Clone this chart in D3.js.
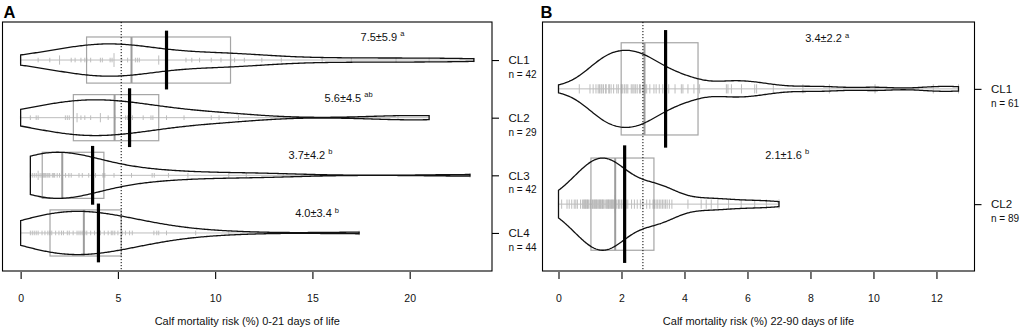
<!DOCTYPE html>
<html><head><meta charset="utf-8">
<script src="https://cdn.jsdelivr.net/npm/d3@7"></script>
<style>body{margin:0;background:#fff}svg{display:block;font-family:"Liberation Sans",Arial,sans-serif}</style>
</head><body><svg id="c" width="1021" height="329"></svg>
<script>
// ---------- Panel A data (0-21 days of life) ----------
const groupsA = ["CL1","CL2","CL3","CL4"];
const nA = [42,29,42,44];
const a_CL1 = [0,0.9,1.5,2.0,2.0,2.6,2.8,3.1,3.3,3.4,3.6,4.1,4.2,4.6,4.7,4.8,4.8,4.8,5.2,5.5,5.7,5.7,5.9,6.0,6.1,7.1,7.1,8.5,8.8,9.2,9.8,10.3,10.8,11.0,11.5,12.4,13.4,15.5,17.0,19.3,21.0,23.3];
const a_CL2 = [0,0.5,0.8,0.9,2.3,2.4,2.5,2.9,2.9,3.1,3.3,3.6,4.1,4.1,4.5,4.85,5.4,5.5,5.75,6.3,6.7,6.8,7.5,8.4,9.8,10.2,11.2,19.4,21.0];
const a_CL3 = [0.5,0.6,0.7,0.8,0.9,0.9,1.0,1.1,1.15,1.2,1.25,1.3,1.37,1.45,1.5,1.63,1.7,1.75,1.88,2.0,2.14,2.14,2.31,2.48,2.6,3.0,3.17,3.5,3.65,3.85,4.23,4.33,4.8,5.7,6.76,6.87,7.6,8.6,10.7,11.6,13.5,23.1];
const a_CL4 = [0,0.5,0.6,0.7,0.8,0.9,1.1,1.25,1.4,1.5,1.6,1.8,1.97,2.1,2.2,2.4,2.5,2.7,2.9,3.0,3.1,3.2,3.3,3.4,3.6,3.8,4.1,4.3,4.5,4.66,4.74,4.84,5.0,5.22,5.39,5.6,5.74,6.85,7.0,7.1,7.5,9.0,10.7,17.4];
const meansA = [7.5,5.6,3.7,4.0];
const sdsA = [5.9,4.5,4.2,3.4];
const lettersA = ["a","ab","b","b"];
const q1A = [3.39,2.71,1.11,1.51];
const medA = [5.70,4.83,2.14,3.25];
const q3A = [10.79,7.10,4.28,5.17];
const overallA = 5.17;
const ticksA = [0,5,10,15,20];
const titleA = "Calf mortality risk (%) 0-21 days of life";

// ---------- Panel B data (22-90 days of life) ----------
const groupsB = ["CL1","CL2"];
const nB = [61,89];
const b_CL1 = [0,0.66,1.0,1.1,1.19,1.26,1.3,1.35,1.38,1.43,1.5,1.51,1.6,1.61,1.67,1.75,1.85,1.9,1.99,2.0,2.04,2.1,2.15,2.2,2.31,2.36,2.4,2.45,2.5,2.57,2.6,2.68,2.71,2.73,2.75,2.8,2.9,3.03,3.1,3.2,3.31,3.4,3.5,3.7,3.9,3.95,4.11,4.3,4.48,5.33,5.38,5.49,5.81,6.23,6.29,6.82,7.76,8.6,10.05,11.9,12.7];
const b_CL2 = [0,0,0.1,0.27,0.34,0.42,0.5,0.55,0.6,0.7,0.76,0.8,0.82,0.85,0.87,0.9,0.92,0.95,1.0,1.03,1.08,1.1,1.13,1.15,1.18,1.2,1.22,1.25,1.28,1.3,1.33,1.35,1.38,1.4,1.42,1.45,1.5,1.53,1.55,1.58,1.6,1.61,1.65,1.68,1.7,1.72,1.75,1.78,1.8,1.8,1.85,1.9,1.92,1.95,2.0,2.05,2.09,2.15,2.2,2.32,2.41,2.5,2.6,2.68,2.8,2.9,3.0,3.03,3.05,3.1,3.15,3.2,3.25,3.3,3.35,3.4,3.45,3.52,3.6,4.11,4.53,4.69,4.85,5.06,5.4,5.8,6.23,6.6,7.0];
const meansB = [3.4,2.1];
const sdsB = [2.2,1.6];
const lettersB = ["a","b"];
const q1B = [1.99,1.03];
const medB = [2.73,1.80];
const q3B = [4.43,3.03];
const overallB = 2.68;
const ticksB = [0,2,4,6,8,10,12];
const titleB = "Calf mortality risk (%) 22-90 days of life";

// annotation anchors (data units along x)
const annotXA = [18.6,16.86,14.9,15.24];
const annotXB = [8.53,7.26];

const svg = d3.select("#c");

function panel(cfg){
  const {box,letter,groups,n,data,means,sds,letters,q1,med,q3,overall,ticks,title,annotX,annotDy,bw} = cfg;
  const all = data.flat();
  const [mn,mx] = d3.extent(all);
  const pad = (mx-mn)*0.04;
  const x = d3.scaleLinear().domain([mn-pad,mx+pad]).range([box.l,box.r]);
  const k = groups.length, yp = k*0.04;
  const y = d3.scaleLinear().domain([0.5-yp,k+0.5+yp]).range([box.t,box.b]);
  const u = y(1)-y(0);
  const g = svg.append("g");

  // densities
  const beans = data.map(v=>{
    const [a,b] = d3.extent(v);
    const grid = d3.range(0,301).map(i=>a+(b-a)*i/300);
    return grid.map(t=>[t, d3.sum(v,w=>Math.exp(-0.5*((t-w)/bw)**2))/(v.length*bw*Math.sqrt(2*Math.PI))]);
  });
  const dmax = d3.max(beans,b=>d3.max(b,d=>d[1]));
  const sc = 0.4/dmax;

  data.forEach((v,i)=>{
    const yc = y(i+1);
    const counts = d3.rollups(v,c=>c.length,d=>d);
    g.selectAll(null).data(counts).join("line")
      .attr("x1",d=>x(d[0])).attr("x2",d=>x(d[0]))
      .attr("y1",d=>yc-0.04*d[1]*u).attr("y2",d=>yc+0.04*d[1]*u)
      .attr("stroke","#a8a8a8").attr("stroke-opacity",0.75).attr("stroke-width",1);
    const [a,b] = d3.extent(v);
    g.append("line").attr("x1",x(a)).attr("x2",x(b)).attr("y1",yc).attr("y2",yc)
      .attr("stroke","#bdbdbd").attr("stroke-width",1);
    g.append("rect").attr("x",x(q1[i])).attr("width",x(q3[i])-x(q1[i]))
      .attr("y",yc-0.4*u).attr("height",0.8*u)
      .attr("fill","none").attr("stroke","#a5a5a5").attr("stroke-width",1.2);
    g.append("line").attr("x1",x(med[i])).attr("x2",x(med[i]))
      .attr("y1",yc-0.4*u).attr("y2",yc+0.4*u)
      .attr("stroke","#9c9c9c").attr("stroke-width",2);
    const area = d3.area().x(d=>x(d[0])).y0(d=>yc+d[1]*sc*u).y1(d=>yc-d[1]*sc*u).curve(d3.curveLinear);
    g.append("path").attr("d",area(beans[i])).attr("fill","none")
      .attr("stroke","#111").attr("stroke-width",1.3);
  });
  g.append("line").attr("x1",x(overall)).attr("x2",x(overall)).attr("y1",box.t).attr("y2",box.b)
    .attr("stroke","#000").attr("stroke-width",1).attr("stroke-dasharray","1.2,1.8");
  data.forEach((v,i)=>{
    const yc = y(i+1);
    g.append("line").attr("x1",x(means[i])).attr("x2",x(means[i]))
      .attr("y1",yc-0.51*u).attr("y2",yc+0.51*u)
      .attr("stroke","#000").attr("stroke-width",3.2);
    const t = g.append("text").attr("x",x(annotX[i])).attr("y",yc+annotDy[i]*u+4)
      .attr("text-anchor","middle").attr("font-size",11).attr("fill","#111");
    t.append("tspan").text(means[i].toFixed(1)+"\u00b1"+sds[i].toFixed(1));
    t.append("tspan").attr("dx",3).attr("dy",-4.5).attr("font-size",7.5).text(letters[i]);
  });
  g.append("rect").attr("x",box.l).attr("y",box.t).attr("width",box.r-box.l).attr("height",box.b-box.t)
    .attr("fill","none").attr("stroke","#000").attr("stroke-width",1.1);
  const ax = g.append("g").attr("transform",`translate(0,${box.b+1})`)
    .call(d3.axisBottom(x).tickValues(ticks).tickSize(7).tickPadding(15.5).tickFormat(d3.format("d")));
  ax.select(".domain").remove();
  ax.selectAll("line").attr("stroke","#000").attr("stroke-width",1.1);
  ax.selectAll("text").attr("font-size",10.5).attr("font-family",null).attr("fill","#111");
  g.append("text").attr("x",(box.l+box.r)/2).attr("y",324.5).attr("text-anchor","middle")
    .attr("font-size",11).attr("fill","#111").text(title);
  const ay = g.append("g").attr("transform",`translate(${box.r},0)`)
    .call(d3.axisRight(y).tickValues(d3.range(1,k+1)).tickSize(7).tickPadding(9.5).tickFormat(d=>groups[d-1]));
  ay.select(".domain").remove();
  ay.selectAll("line").attr("stroke","#000").attr("stroke-width",1.1);
  ay.selectAll("text").attr("font-size",11.5).attr("font-family",null).attr("fill","#111");
  groups.forEach((c,i)=>{
    g.append("text").attr("x",box.r+16.5).attr("y",y(i+1)+18).attr("font-size",10)
      .attr("fill","#111").text("n = "+n[i]);
  });
  g.append("text").attr("x",letter.x).attr("y",18).attr("font-size",16.5).attr("font-weight","bold")
    .attr("fill","#000").text(letter.t);
}

panel({box:{l:2.5,t:22,r:492,b:271},letter:{t:"A",x:3.5},groups:groupsA,n:nA,
  data:[a_CL1,a_CL2,a_CL3,a_CL4],means:meansA,sds:sdsA,letters:lettersA,q1:q1A,med:medA,q3:q3A,
  overall:overallA,ticks:ticksA,title:titleA,annotX:annotXA,annotDy:[-0.40,-0.35,-0.36,-0.34],bw:2.0});
panel({box:{l:542.5,t:22,r:974.5,b:271},letter:{t:"B",x:540.5},groups:groupsB,n:nB,
  data:[b_CL1,b_CL2],means:meansB,sds:sdsB,letters:lettersB,q1:q1B,med:medB,q3:q3B,
  overall:overallB,ticks:ticksB,title:titleB,annotX:annotXB,annotDy:[-0.44,-0.43],bw:0.58});
</script>
</body></html>
